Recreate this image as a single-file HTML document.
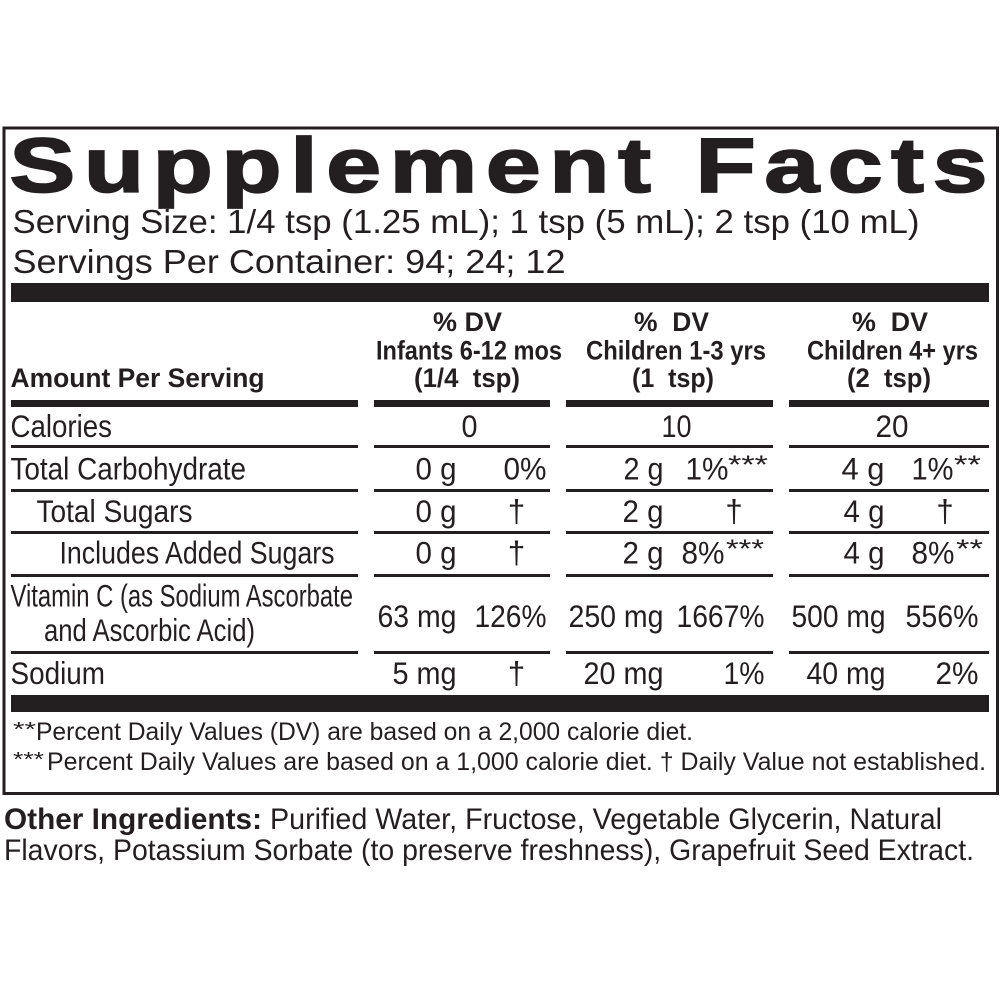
<!DOCTYPE html>
<html><head><meta charset="utf-8"><style>
html,body{margin:0;padding:0;background:#fff;}
svg{display:block;}
text{font-family:"Liberation Sans",Arial,sans-serif;fill:#231f20;white-space:pre;}
.b{font-weight:bold;}
.h{font-weight:bold;font-size:27px;}
.r{font-size:31.5px;}
.s{font-size:26px;}
</style></head><body>
<svg width="1000" height="1000" viewBox="0 0 1000 1000" xmlns="http://www.w3.org/2000/svg">
<rect width="1000" height="1000" fill="#fff"/>
<rect x="4" y="128" width="993.5" height="665.5" fill="none" stroke="#231f20" stroke-width="3"/>

<g transform="translate(9.5,192) scale(1.28,1)">
<text class="b" x="0" y="0" font-size="77" textLength="764" lengthAdjust="spacing" stroke="#231f20" stroke-width="1.8">Supplement Facts</text>
</g>

<text x="12.5" y="233" font-size="33.5" textLength="907" lengthAdjust="spacingAndGlyphs">Serving Size: 1/4 tsp (1.25 mL); 1 tsp (5 mL); 2 tsp (10 mL)</text>
<text x="12.5" y="273" font-size="33.5" textLength="553" lengthAdjust="spacingAndGlyphs">Servings Per Container: 94; 24; 12</text>

<rect x="11" y="283" width="978" height="19" fill="#231f20"/>

<text class="h" x="433" y="331" textLength="69" lengthAdjust="spacingAndGlyphs">% DV</text>
<text class="h" x="376" y="359.5" textLength="186" lengthAdjust="spacingAndGlyphs">Infants 6-12 mos</text>
<text class="h" x="414" y="387" textLength="106" lengthAdjust="spacingAndGlyphs">(1/4  tsp)</text>
<text class="h" x="634" y="331" textLength="75" lengthAdjust="spacingAndGlyphs">%  DV</text>
<text class="h" x="586" y="359.5" textLength="180" lengthAdjust="spacingAndGlyphs">Children 1-3 yrs</text>
<text class="h" x="632" y="387" textLength="82" lengthAdjust="spacingAndGlyphs">(1  tsp)</text>
<text class="h" x="852" y="331" textLength="76" lengthAdjust="spacingAndGlyphs">%  DV</text>
<text class="h" x="807" y="359.5" textLength="171" lengthAdjust="spacingAndGlyphs">Children 4+ yrs</text>
<text class="h" x="847" y="387" textLength="84" lengthAdjust="spacingAndGlyphs">(2  tsp)</text>
<text class="h" x="10.5" y="387" textLength="254" lengthAdjust="spacingAndGlyphs">Amount Per Serving</text>

<g fill="#231f20">
<rect x="11" y="400" width="347" height="7"/>
<rect x="374" y="400" width="176" height="7"/>
<rect x="566" y="400" width="207" height="7"/>
<rect x="789" y="400" width="200" height="7"/>

<rect x="11" y="445" width="347" height="3"/>
<rect x="374" y="445" width="176" height="3"/>
<rect x="566" y="445" width="207" height="3"/>
<rect x="789" y="445" width="200" height="3"/>

<rect x="11" y="489" width="347" height="3"/>
<rect x="374" y="489" width="176" height="3"/>
<rect x="566" y="489" width="207" height="3"/>
<rect x="789" y="489" width="200" height="3"/>

<rect x="11" y="531" width="347" height="3"/>
<rect x="374" y="531" width="176" height="3"/>
<rect x="566" y="531" width="207" height="3"/>
<rect x="789" y="531" width="200" height="3"/>

<rect x="11" y="574" width="347" height="3"/>
<rect x="374" y="574" width="176" height="3"/>
<rect x="566" y="574" width="207" height="3"/>
<rect x="789" y="574" width="200" height="3"/>

<rect x="11" y="651" width="347" height="3"/>
<rect x="374" y="651" width="176" height="3"/>
<rect x="566" y="651" width="207" height="3"/>
<rect x="789" y="651" width="200" height="3"/>

<rect x="11" y="695" width="978" height="17"/>
</g>

<!-- Calories -->
<text class="r" x="10.5" y="437" textLength="101.5" lengthAdjust="spacingAndGlyphs">Calories</text>
<text class="r" x="461.5" y="437" textLength="16" lengthAdjust="spacingAndGlyphs">0</text>
<text class="r" x="661.5" y="437" textLength="30" lengthAdjust="spacingAndGlyphs">10</text>
<text class="r" x="875.5" y="437" textLength="33" lengthAdjust="spacingAndGlyphs">20</text>

<!-- Total Carbohydrate -->
<text class="r" x="10.5" y="479.5" textLength="235.5" lengthAdjust="spacingAndGlyphs">Total Carbohydrate</text>
<text class="r" x="415.5" y="479.5" textLength="41" lengthAdjust="spacingAndGlyphs">0 g</text>
<text class="r" x="503.5" y="479.5" textLength="43" lengthAdjust="spacingAndGlyphs">0%</text>
<text class="r" x="623.5" y="479.5" textLength="40" lengthAdjust="spacingAndGlyphs">2 g</text>
<text class="r" x="685.5" y="479.5" textLength="43" lengthAdjust="spacingAndGlyphs">1%</text>
<text class="s" x="728" y="473.5" textLength="40" lengthAdjust="spacingAndGlyphs">***</text>
<text class="r" x="841.5" y="479.5" textLength="43" lengthAdjust="spacingAndGlyphs">4 g</text>
<text class="r" x="911.5" y="479.5" textLength="42" lengthAdjust="spacingAndGlyphs">1%</text>
<text class="s" x="954" y="473.5" textLength="27" lengthAdjust="spacingAndGlyphs">**</text>

<!-- Total Sugars -->
<text class="r" x="36.5" y="522" textLength="156" lengthAdjust="spacingAndGlyphs">Total Sugars</text>
<text class="r" x="415.5" y="522" textLength="41" lengthAdjust="spacingAndGlyphs">0 g</text>
<text class="r" x="516.5" y="522" text-anchor="middle">†</text>
<text class="r" x="622.5" y="522" textLength="41" lengthAdjust="spacingAndGlyphs">2 g</text>
<text class="r" x="734" y="522" text-anchor="middle">†</text>
<text class="r" x="843.5" y="522" textLength="41" lengthAdjust="spacingAndGlyphs">4 g</text>
<text class="r" x="945" y="522" text-anchor="middle">†</text>

<!-- Includes Added Sugars -->
<text class="r" x="59.5" y="563.5" textLength="275" lengthAdjust="spacingAndGlyphs">Includes Added Sugars</text>
<text class="r" x="415.5" y="563.5" textLength="41" lengthAdjust="spacingAndGlyphs">0 g</text>
<text class="r" x="516.5" y="563.5" text-anchor="middle">†</text>
<text class="r" x="622.5" y="563.5" textLength="41" lengthAdjust="spacingAndGlyphs">2 g</text>
<text class="r" x="681.5" y="563.5" textLength="43" lengthAdjust="spacingAndGlyphs">8%</text>
<text class="s" x="726" y="557.5" textLength="38" lengthAdjust="spacingAndGlyphs">***</text>
<text class="r" x="843.5" y="563.5" textLength="41" lengthAdjust="spacingAndGlyphs">4 g</text>
<text class="r" x="911.5" y="563.5" textLength="43" lengthAdjust="spacingAndGlyphs">8%</text>
<text class="s" x="956" y="557.5" textLength="27" lengthAdjust="spacingAndGlyphs">**</text>

<!-- Vitamin C -->
<text class="r" x="10.5" y="606.5" textLength="342.5" lengthAdjust="spacingAndGlyphs">Vitamin C (as Sodium Ascorbate</text>
<text class="r" x="44" y="641" textLength="211" lengthAdjust="spacingAndGlyphs">and Ascorbic Acid)</text>
<text class="r" x="377.5" y="627" textLength="79" lengthAdjust="spacingAndGlyphs">63 mg</text>
<text class="r" x="474.5" y="627" textLength="72" lengthAdjust="spacingAndGlyphs">126%</text>
<text class="r" x="568.5" y="627" textLength="95" lengthAdjust="spacingAndGlyphs">250 mg</text>
<text class="r" x="676.5" y="627" textLength="88" lengthAdjust="spacingAndGlyphs">1667%</text>
<text class="r" x="791.5" y="627" textLength="94" lengthAdjust="spacingAndGlyphs">500 mg</text>
<text class="r" x="905.5" y="627" textLength="73" lengthAdjust="spacingAndGlyphs">556%</text>

<!-- Sodium -->
<text class="r" x="10.5" y="684" textLength="94.5" lengthAdjust="spacingAndGlyphs">Sodium</text>
<text class="r" x="392.5" y="684" textLength="64" lengthAdjust="spacingAndGlyphs">5 mg</text>
<text class="r" x="516.5" y="684" text-anchor="middle">†</text>
<text class="r" x="583.5" y="684" textLength="80" lengthAdjust="spacingAndGlyphs">20 mg</text>
<text class="r" x="723.5" y="684" textLength="41" lengthAdjust="spacingAndGlyphs">1%</text>
<text class="r" x="806.5" y="684" textLength="79" lengthAdjust="spacingAndGlyphs">40 mg</text>
<text class="r" x="935.5" y="684" textLength="43" lengthAdjust="spacingAndGlyphs">2%</text>

<!-- Footnotes -->
<text x="13" y="736" font-size="20" textLength="23" lengthAdjust="spacingAndGlyphs">**</text>
<text x="36" y="740" font-size="25" textLength="657" lengthAdjust="spacingAndGlyphs">Percent Daily Values (DV) are based on a 2,000 calorie diet.</text>
<text x="13" y="766" font-size="20" textLength="31" lengthAdjust="spacingAndGlyphs">***</text>
<text x="47" y="770" font-size="25" textLength="939" lengthAdjust="spacingAndGlyphs">Percent Daily Values are based on a 1,000 calorie diet. † Daily Value not established.</text>

<!-- Other Ingredients -->
<text class="b" x="4" y="829" font-size="29.5" textLength="258" lengthAdjust="spacingAndGlyphs">Other Ingredients:</text>
<text x="270" y="829" font-size="29.5" textLength="672" lengthAdjust="spacingAndGlyphs">Purified Water, Fructose, Vegetable Glycerin, Natural</text>
<text x="4" y="860" font-size="29.5" textLength="970" lengthAdjust="spacingAndGlyphs">Flavors, Potassium Sorbate (to preserve freshness), Grapefruit Seed Extract.</text>
</svg>
</body></html>
